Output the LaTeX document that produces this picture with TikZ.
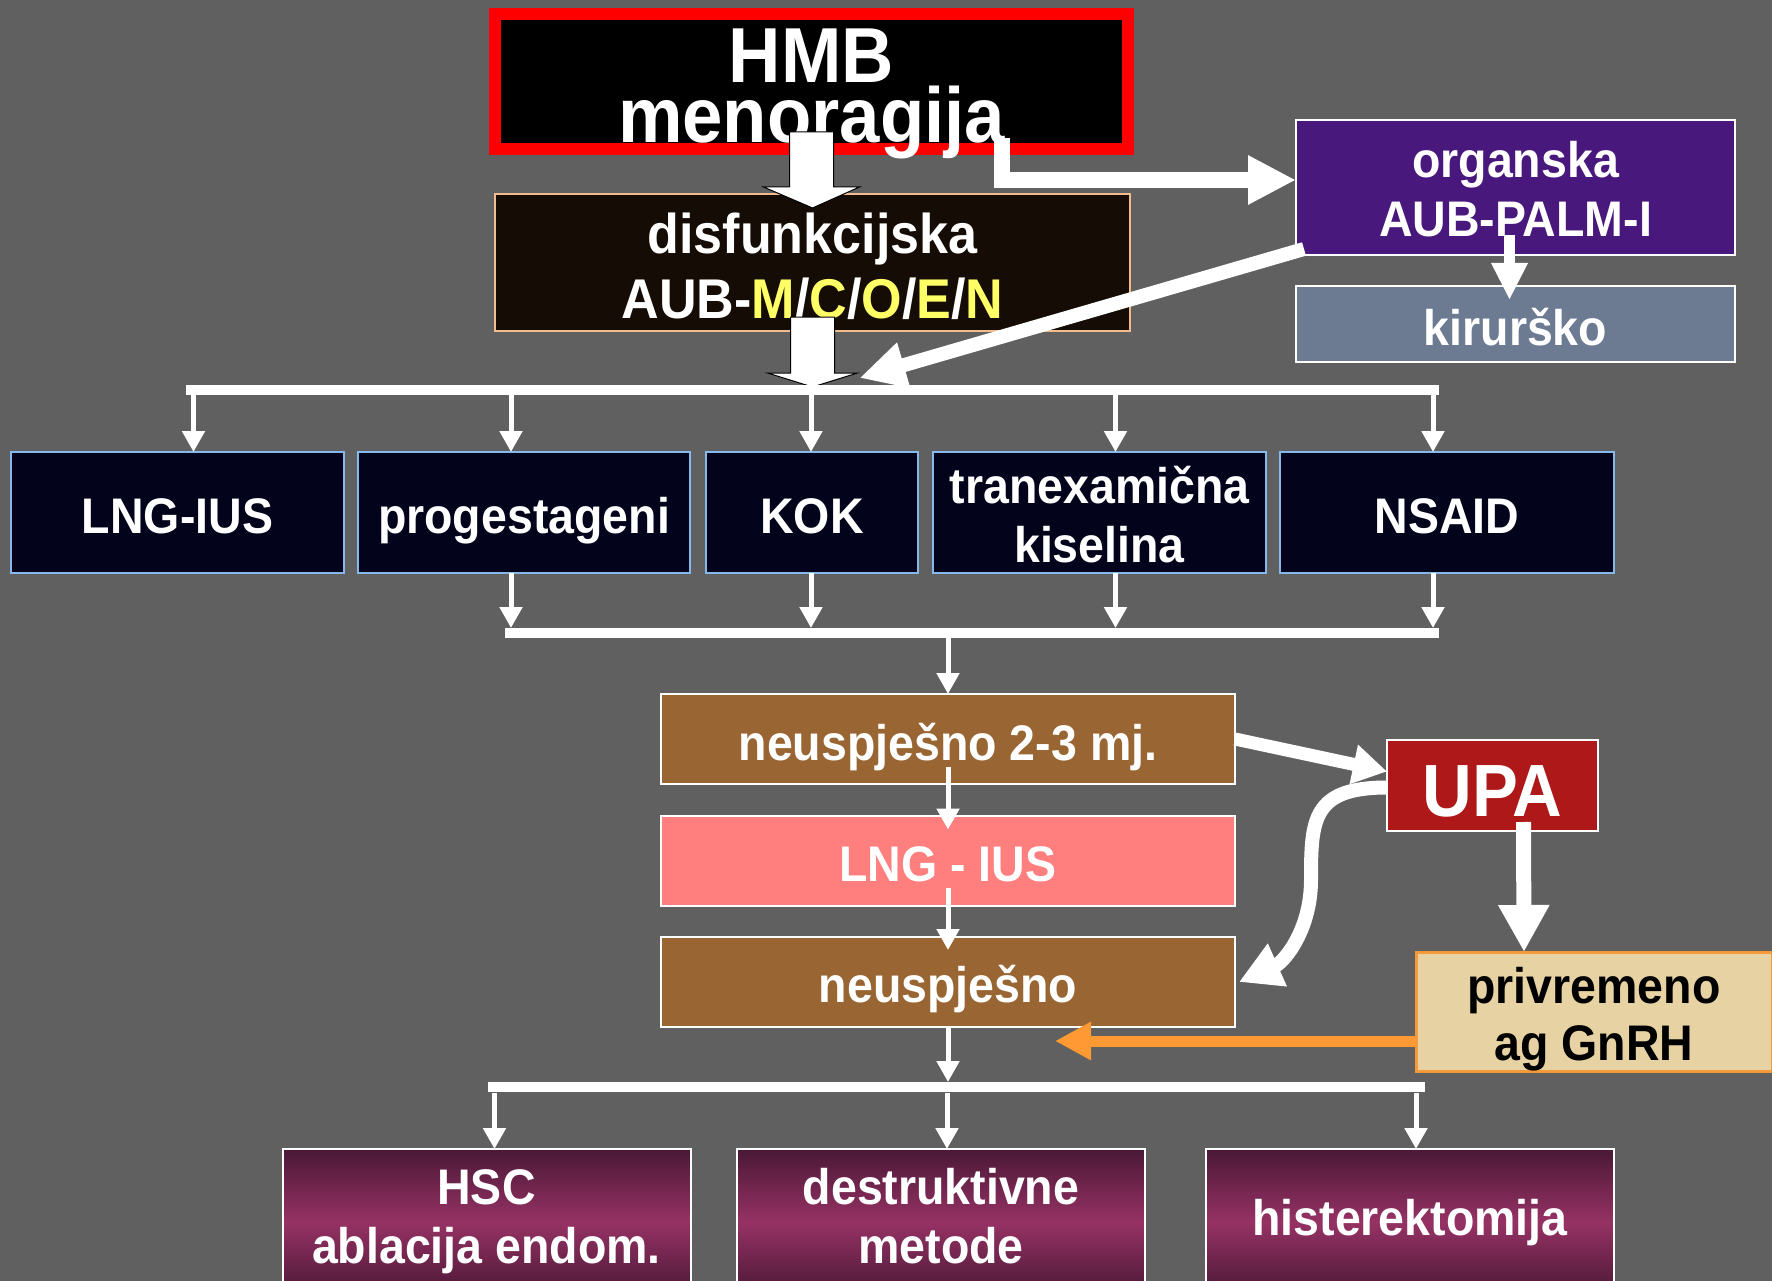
\documentclass[tikz,border=0pt]{standalone}
\usepackage{fontspec}
\setmainfont[FakeStretch=0.93]{Liberation Sans}
\usepackage{xcolor}
\usepackage{tikz}
\usetikzlibrary{
  arrows.meta,
  positioning,
  calc
}
\definecolor{slidegrey}{HTML}{606060}
\definecolor{hmbred}{HTML}{FF0000}
\definecolor{disfdark}{HTML}{140C05}
\definecolor{disfedge}{HTML}{F2BC8C}
\definecolor{orgpurple}{HTML}{48187C}
\definecolor{kirblue}{HTML}{6C7A92}
\definecolor{rownavy}{HTML}{03031C}
\definecolor{rowedge}{HTML}{86B8EC}
\definecolor{failbrown}{HTML}{996633}
\definecolor{iuspink}{HTML}{FF7F7F}
\definecolor{upared}{HTML}{AF1818}
\definecolor{gnrhtan}{HTML}{E6D2A2}
\definecolor{gnrhedge}{HTML}{F39A3A}
\definecolor{surgdark}{HTML}{4A1836}
\definecolor{surgmid}{HTML}{963264}
\definecolor{mcoen}{HTML}{FFFF66}
\definecolor{orangearrow}{HTML}{FF9933}
\tikzset{
  basebox/.style={
    rectangle, inner sep=0pt, outer sep=0pt, align=center,
    text=white, line width=2pt, text depth=0pt,
    font=\fontsize{50}{59}\selectfont\bfseries
  },
  hmbbox/.style={
    basebox, draw=hmbred, fill=black, line width=12pt,
    minimum width=633pt, minimum height=135pt,
    font=\fontsize{78}{60}\selectfont\bfseries,
    text height=122pt, text depth=0pt
  },
  disfbox/.style={
    basebox, draw=disfedge, fill=disfdark,
    minimum width=635pt, minimum height=137pt,
    font=\fontsize{56}{65}\selectfont\bfseries, text height=113pt
  },
  orgbox/.style={
    basebox, draw=white, fill=#1, minimum width=439pt
  },
  drugbox/.style={
    basebox, draw=rowedge, fill=rownavy,
    minimum height=121pt, text height=41pt
  },
  stepbox/.style={
    basebox, draw=white, fill=#1,
    minimum width=574pt, minimum height=90pt, text height=41pt
  },
  surgbox/.style={
    basebox, draw=white, top color=surgdark, bottom color=surgdark,
    middle color=surgmid, minimum width=408pt, minimum height=146pt
  },
  thinarrow/.style={
    draw=white, line width=5pt, -{Triangle[length=21pt, width=22pt]}
  },
  barline/.style={
    draw=white, line width=10pt
  },
  fatarrow/.style={
    draw=white, line width=#1
  },
  blockarrow/.style={
    fill=white, draw=black, line width=1pt
  },
}

\begin{document}
\begin{tikzpicture}[x=1pt, y=-1pt]

  \useasboundingbox (0,0) rectangle (1772,1281);
  \fill[slidegrey] (0,0) rectangle (1772,1281);

  %% Top: HMB and the two kinds of bleeding
  \node[hmbbox] (hmb) at (811.5,81.5) {HMB\\menoragija};
  \node[disfbox] (disf) at (812.5,262.5) {disfunkcijska\\AUB-\textcolor{mcoen}{M}/\textcolor{mcoen}{C}/\textcolor{mcoen}{O}/\textcolor{mcoen}{E}/\textcolor{mcoen}{N}};
  \node[orgbox=orgpurple, minimum height=135pt, text height=99pt] (org) at (1515.5,187.5) {organska\\AUB-PALM-I};
  \node[orgbox=kirblue, minimum height=76pt, text height=42pt] (kir) at (1515.5,324) {kirurško};

  %% Medical therapy row
  \node[drugbox, minimum width=333pt] (lng) at (177.5,512.5) {LNG-IUS};
  \node[drugbox, minimum width=332pt] (prog) at (524,512.5) {progestageni};
  \node[drugbox, minimum width=212pt] (kok) at (812,512.5) {KOK};
  \node[drugbox, minimum width=333pt, text height=99pt] (tran) at (1099.5,512.5) {tranexamična\\kiselina};
  \node[drugbox, minimum width=334pt] (nsaid) at (1447,512.5) {NSAID};

  %% Failure path
  \node[stepbox=failbrown, text height=42pt] (n1) at (948,739) {neuspješno 2-3 mj.};
  \node[stepbox=iuspink] (lng2) at (948,860.5) {LNG - IUS};
  \node[stepbox=failbrown, text height=40pt] (n2) at (948,982) {neuspješno};
  \node[basebox, draw=white, fill=upared, minimum width=211pt, minimum height=91pt,
        font=\fontsize{74}{80}\selectfont\bfseries, text height=61pt] (upa) at (1492.5,785.5) {UPA};
  \node[basebox, draw=gnrhedge, fill=gnrhtan, line width=3pt, text=black,
        minimum width=356pt, minimum height=119pt, font=\fontsize{50}{57}\selectfont\bfseries,
        text height=97pt] (priv) at (1594,1011.5) {privremeno\\ag GnRH};

  %% Surgical options
  \node[surgbox, text height=82pt] (hsc) at (486.5,1222) {HSC\\ablacija endom.};
  \node[surgbox, text height=82pt] (destr) at (941,1222) {destruktivne\\metode};
  \node[surgbox, text height=26pt] (hist) at (1410,1222) {histerektomija};

  %% Block arrows
  \draw[blockarrow] ($(hmb.south)+(-22,-17)$) -- ($(hmb.south)+(22,-17)$) -- ($(hmb.south)+(22,38)$)
    -- ($(hmb.south)+(48,38)$) -- ($(disf.north)+(0,14)$) -- ($(hmb.south)+(-48,38)$)
    -- ($(hmb.south)+(-22,38)$) -- cycle;
  \draw[blockarrow] ($(disf.south)+(-22,-14)$) -- ($(disf.south)+(22,-14)$) -- ($(disf.south)+(22,42)$)
    -- ($(disf.south)+(45,42)$) -- ($(disf.south)+(0,56)$) -- ($(disf.south)+(-45,42)$)
    -- ($(disf.south)+(-22,42)$) -- cycle;

  \draw[fatarrow=16pt, -{Triangle[length=48pt, width=46pt]}]
    ($(hmb.south east)+(-126,-11)$) |- ([yshift=7.5pt]org.west);
  \draw[fatarrow=14pt, -{Triangle[length=46pt, width=44pt]}]
    ($(org.south west)+(8,-6)$) -- ($(disf.south)+(47,47)$);
  \draw[fatarrow=11pt, -{Triangle[length=37pt, width=34pt]}]
    ([xshift=-6pt, yshift=20pt]org.south) -- ([xshift=-6pt, yshift=-14pt]kir.north);

  %% Distribution bars
  \draw[barline] ($(lng.north)+(8.5,-62)$) -- ($(nsaid.north)+(-8,-62)$);
  \draw[thinarrow] ($(lng.north)+(16,-62)$) -- ($(lng.north)+(16,0)$);
  \draw[thinarrow] ($(prog.north)+(-13,-62)$) -- ($(prog.north)+(-13,0)$);
  \draw[thinarrow] ($(kok.north)+(-1,-62)$) -- ($(kok.north)+(-1,0)$);
  \draw[thinarrow] ($(tran.north)+(16,-62)$) -- ($(tran.north)+(16,0)$);
  \draw[thinarrow] ($(nsaid.north)+(-14,-62)$) -- ($(nsaid.north)+(-14,0)$);

  \draw[barline] ($(prog.south)+(-19,60)$) -- ($(nsaid.south)+(-8,60)$);
  \draw[thinarrow] ($(prog.south)+(-13,0)$) -- ($(prog.south)+(-13,55)$);
  \draw[thinarrow] ($(kok.south)+(-1,0)$) -- ($(kok.south)+(-1,55)$);
  \draw[thinarrow] ($(tran.south)+(16,0)$) -- ($(tran.south)+(16,55)$);
  \draw[thinarrow] ($(nsaid.south)+(-14,0)$) -- ($(nsaid.south)+(-14,55)$);
  \draw[thinarrow] ($(n1.north)+(0,-56)$) -- (n1.north);

  %% Failure path arrows
  \draw[thinarrow] ([yshift=17pt]n1.south) -- ([yshift=-14pt]lng2.north);
  \draw[thinarrow] ([yshift=18pt]lng2.south) -- ([yshift=-13pt]n2.north);
  \draw[fatarrow=13pt, -{Triangle[length=34pt, width=38pt]}]
    (n1.east) -- ([yshift=14pt]upa.west);
  \coordinate (upabend) at (1311,880);
  \draw[fatarrow=14pt, -{Triangle[length=42pt, width=44pt]}]
    ([yshift=-2pt]upa.west) .. controls +(-75,0) and +(0,-60) .. (upabend)
    .. controls +(0,50) and +(45,-20) .. ([xshift=4pt]n2.east);
  \draw[fatarrow=15pt, -{Triangle[length=47pt, width=48pt]}]
    ([xshift=31pt, yshift=9pt]upa.south) -- ([xshift=-70pt]priv.north);
  \draw[draw=orangearrow, line width=11pt, -{Triangle[length=36pt, width=36pt]}]
    ([yshift=-29.5pt]priv.west) -- ($(n2.south)+(107,14)$);

  %% Surgical options
  \draw[thinarrow] (n2.south) -- ($(n2.south)+(0,55)$);
  \draw[barline] ($(n2.south)+(-460,60)$) -- ($(n2.south)+(477,60)$);
  \draw[thinarrow] ($(hsc.north)+(8,-56)$) -- ($(hsc.north)+(8,0)$);
  \draw[thinarrow] ($(destr.north)+(6,-56)$) -- ($(destr.north)+(6,0)$);
  \draw[thinarrow] ($(hist.north)+(6,-56)$) -- ($(hist.north)+(6,0)$);

\end{tikzpicture}
\end{document}
